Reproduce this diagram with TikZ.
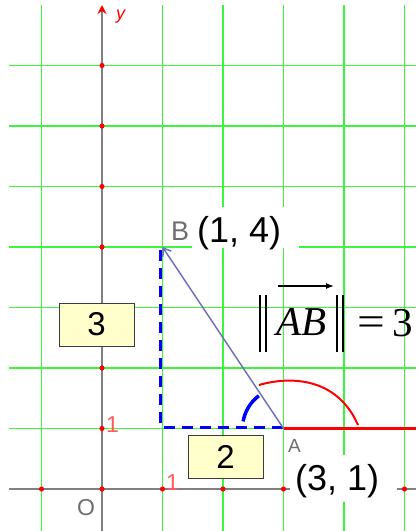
\documentclass[tikz,border=0pt]{standalone}
\usepackage{fontspec}
\setmainfont{Liberation Serif}
\setsansfont{Liberation Sans}
\usetikzlibrary{arrows.meta}
\definecolor{gridg}{RGB}{60,245,60}
\definecolor{axisgrey}{RGB}{128,128,128}
\definecolor{lblgrey}{RGB}{110,110,110}
\definecolor{vecblue}{RGB}{110,110,190}
\definecolor{boxfill}{RGB}{255,255,204}
\definecolor{boxedge}{RGB}{60,60,60}
\definecolor{lightred}{RGB}{255,90,90}
\tikzset{
  gridline/.style={draw=gridg, line width=1.8pt},
  axisline/.style={draw=axisgrey, line width=2.4pt},
  axdot/.style={fill=red},
  numbox/.style={draw=boxedge, fill=boxfill, line width=1pt, minimum width=75pt, minimum height=43pt, inner sep=0pt, font=\sffamily\fontsize{33}{33}\selectfont},
  coordlbl/.style={inner sep=0pt, anchor=base west, font=\sffamily\fontsize{36}{36}\selectfont},
  greylbl/.style={inner sep=0pt, anchor=base west, text=lblgrey},
  redlbl/.style={inner sep=0pt, anchor=base west, text=lightred, font=\sffamily\fontsize{23}{23}\selectfont},
  formula/.style={inner sep=0pt, anchor=base west, font=\fontsize{41}{41}\selectfont},
  normbar/.style={draw=black, line width=1.6pt}
}
\begin{document}
\begin{tikzpicture}[x=1pt,y=-1pt]
\useasboundingbox (0,0) rectangle (416,531);
\fill[white] (0,0) rectangle (416,531);
% grid
\foreach \x in {41.5,162.5,223,283.5,344,404.5} \draw[gridline] (\x,5) -- (\x,531);
\foreach \y in {65.5,126,186.5,247,307.5,368,428.5} \draw[gridline] (9,\y) -- (416,\y);
% key points
\coordinate (O) at (102,489);
\coordinate (A) at (283.5,428.5);
\coordinate (B) at (162.5,247);
\coordinate (Bd) at (160.5,250);
\coordinate (C) at (160.5,427);
\coordinate (Ad) at (283.5,427);
\coordinate (Aend) at (416,428.5);
\coordinate (xl) at (9,489);
\coordinate (xr) at (416,489);
\coordinate (yb) at (102,531);
\coordinate (yt) at (102,5);
% axes
\draw[axisline] (xl) -- (xr);
\draw[axisline, -{Stealth[red, length=9pt, width=9pt]}] (yb) -- (yt);
\foreach \x in {41.5,102,162.5,223,283.5,404.5} \fill[axdot] (\x,489) circle[radius=2.6pt];
\foreach \y in {65.5,126,186.5,247,307.5,368,428.5} \fill[axdot] (102,\y) circle[radius=2.6pt];
\node[inner sep=0pt, anchor=base west, text=red, font=\sffamily\itshape\fontsize{18}{18}\selectfont] (ylab) at (116,19.5) {y};
\node[greylbl, font=\sffamily\fontsize{23}{23}\selectfont] (olab) at (77,515) {O};
\node[redlbl] (one1) at (106,432) {1};
\node[redlbl] (one2) at (166,490) {1};
% red angle reference
\draw[red, line width=3.5pt] (A) -- (Aend);
\draw[red, line width=2pt] (259,385) .. controls (290,376) and (337,377) .. (358,425);
% dashed legs
\draw[blue, line width=3pt, dash pattern=on 11pt off 7pt] (Bd) -- (C) -- (Ad);
% vector AB
\draw[vecblue, line width=1.5pt, -{Straight Barb[length=7pt, width=10pt]}] (A) -- (B);
% angle arc
\draw[blue, line width=3.5pt] (A) ++(-170:41) arc[start angle=-170, end angle=-127, radius=41];
% labels
\node[greylbl, font=\sffamily\fontsize{27}{27}\selectfont] (Blab) at (171,240) {B};
\fill[white] (192,207) rectangle (299,248);
\node[coordlbl] (Bc) at (197,242.5) {(1, 4)};
\node[greylbl, font=\sffamily\fontsize{19}{19}\selectfont] (Alab) at (288,452.5) {A};
\fill[white] (290,455) rectangle (397,502);
\node[coordlbl] (Ac) at (295,490.5) {(3, 1)};
\node[numbox] (b3) at (96.5,324.5) {3};
\node[numbox] (b2) at (225.5,456.5) {2};
% norm formula
\draw[normbar] (260,295) -- (260,352);
\draw[normbar] (266,295) -- (266,352);
\draw[normbar] (337,295) -- (337,352);
\draw[normbar] (343,295) -- (343,352);
\node[formula] (ab) at (276,335) {\itshape AB};
\draw[line width=1.2pt, -{Latex[length=8pt, width=6pt]}] (278,286) -- (334,286);
\node[formula, anchor=base, xscale=1.2] (eq) at (371,335) {=};
\node[formula] (three) at (392,336) {3};
\end{tikzpicture}
\end{document}
